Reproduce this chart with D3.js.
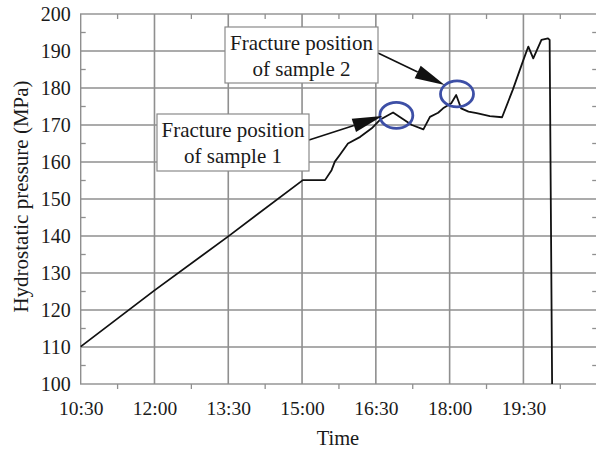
<!DOCTYPE html>
<html>
<head>
<meta charset="utf-8">
<script src="https://cdn.jsdelivr.net/npm/d3@7"></script>
<style>
  html, body { margin: 0; padding: 0; background: #fff; }
  svg { display: block; }
  text { font-family: "Liberation Serif", "DejaVu Serif", serif; fill: #1a1a1a; }
</style>
</head>
<body>
<svg id="chart" width="596" height="449"></svg>
<script>
// Hydrostatic pressure record over the test day
const times = ["10:30","12:00","13:30","15:01","15:28","15:36","15:40","15:46","15:56","16:11",
               "16:25","16:35","16:51","17:14","17:28","17:36","17:46","17:52","18:02","18:08",
               "18:14","18:23","18:33","18:49","19:04","19:17","19:30","19:36","19:42","19:52",
               "20:00","20:02","20:05"];
const pressures = [110.1,125.3,139.9,155.1,155.1,157.8,160.1,161.9,165.0,166.8,
                   169.1,171.4,173.4,170.0,168.8,172.2,173.3,174.5,175.9,178.1,
                   174.5,173.6,173.2,172.4,172.1,179.5,187.6,191.2,188.0,193.0,
                   193.4,193.0,100.0];

const xTickLabels = ["10:30","12:00","13:30","15:00","16:30","18:00","19:30"];
const xMinorTicks = ["11:15","12:45","14:15","15:45","17:15","18:45","20:15"];
const yTicks = [100,110,120,130,140,150,160,170,180,190,200];
const yMinorTicks = [105,115,125,135,145,155,165,175,185,195];

// Fracture annotations: circled point, arrow tip and label
const fractureLabels = [["Fracture position","of sample 1"],["Fracture position","of sample 2"]];
const fractureTimes = ["16:55","18:09"];
const fracturePressures = [172.6,178.4];
const arrowTipTimes = ["16:38","17:54"];
const arrowTipPressures = [172.4,180.8];

const parse = d3.timeParse("%H:%M");
const svg = d3.select("#chart");

const plotL = 80.7, plotR = 597.2, plotT = 14, plotB = 384;
const x = d3.scaleTime().domain([parse("10:30"), parse("21:00")]).range([plotL, plotR]);
const y = d3.scaleLinear().domain([100, 200]).range([plotB, plotT]);

const gridColor = "#8f8f8f";

// grid lines
const grid = svg.append("g");
grid.selectAll("line.gx").data(xTickLabels.slice(1).concat(["21:00"])).join("line")
  .attr("x1", d => x(parse(d))).attr("x2", d => x(parse(d)))
  .attr("y1", plotT).attr("y2", plotB)
  .attr("stroke", gridColor).attr("stroke-width", 1.6);
grid.selectAll("line.gy").data(yTicks.slice(1, -1)).join("line")
  .attr("x1", plotL).attr("x2", plotR)
  .attr("y1", d => y(d)).attr("y2", d => y(d))
  .attr("stroke", gridColor).attr("stroke-width", 1.6);

// frame
svg.append("rect").attr("x", plotL).attr("y", plotT)
  .attr("width", plotR - plotL).attr("height", plotB - plotT)
  .attr("fill", "none").attr("stroke", gridColor).attr("stroke-width", 1.4);

// bottom axis: labels and outward minor ticks
const xAxis = d3.axisBottom(x)
  .tickValues(xTickLabels.map(parse))
  .tickFormat(d3.timeFormat("%H:%M"))
  .tickSize(0).tickPadding(17);
const gx = svg.append("g").attr("transform", `translate(0,${plotB})`).call(xAxis);
gx.select(".domain").remove();
gx.selectAll("text").attr("font-size", 19.5).attr("fill", "#1a1a1a")
  .attr("font-family", '"Liberation Serif", serif');
const ticks = svg.append("g").attr("stroke", gridColor).attr("stroke-width", 1.3);
ticks.selectAll("line.bm").data(xMinorTicks).join("line")
  .attr("x1", d => x(parse(d))).attr("x2", d => x(parse(d)))
  .attr("y1", plotB).attr("y2", plotB + 5);
ticks.selectAll("line.tm").data(xMinorTicks).join("line")
  .attr("x1", d => x(parse(d))).attr("x2", d => x(parse(d)))
  .attr("y1", plotT).attr("y2", plotT + 5);

// left axis
const yAxis = d3.axisLeft(y).tickValues(yTicks).tickSize(0).tickPadding(10);
const gy = svg.append("g").attr("transform", `translate(${plotL},0)`).call(yAxis);
gy.select(".domain").remove();
gy.selectAll("text").attr("font-size", 20).attr("fill", "#1a1a1a")
  .attr("font-family", '"Liberation Serif", serif');
ticks.selectAll("line.lm").data(yMinorTicks).join("line")
  .attr("x1", plotL).attr("x2", plotL + 5)
  .attr("y1", d => y(d)).attr("y2", d => y(d));
ticks.selectAll("line.rm").data(yMinorTicks).join("line")
  .attr("x1", plotR - 5).attr("x2", plotR)
  .attr("y1", d => y(d)).attr("y2", d => y(d));

// axis titles
svg.append("text").attr("x", (plotL + plotR) / 2 - 1).attr("y", 444.5)
  .attr("text-anchor", "middle").attr("font-size", 20.5).text("Time");
svg.append("text").attr("transform", `translate(28,${(plotT + plotB) / 2 - 2.5}) rotate(-90)`)
  .attr("text-anchor", "middle").attr("font-size", 21).text("Hydrostatic pressure (MPa)");

// pressure curve
const series = times.map((t, i) => ({ t: parse(t), p: pressures[i] }));
svg.append("path").datum(series)
  .attr("fill", "none").attr("stroke", "#111").attr("stroke-width", 1.8)
  .attr("stroke-linejoin", "round")
  .attr("d", d3.line().x(d => x(d.t)).y(d => y(d.p)));

// fracture markers
svg.selectAll("ellipse.frac").data(fractureTimes).join("ellipse")
  .attr("cx", d => x(parse(d))).attr("cy", (d, i) => y(fracturePressures[i]))
  .attr("rx", 16.5).attr("ry", 13)
  .attr("fill", "none").attr("stroke", "#3d4fa6").attr("stroke-width", 2.8);

// label boxes and arrows
const boxes = [{ x: 157, y: 114, w: 152, h: 57 }, { x: 225, y: 27, w: 153, h: 56 }];
const arrowStarts = [[309, 140], [378, 53]];

fractureLabels.forEach((lines, i) => {
  const b = boxes[i];
  const [x0, y0] = arrowStarts[i];
  const x1 = x(parse(arrowTipTimes[i])), y1 = y(arrowTipPressures[i]);
  const ang = Math.atan2(y1 - y0, x1 - x0);
  const headLen = 30, headW = 7;
  const bx = x1 - headLen * Math.cos(ang), by = y1 - headLen * Math.sin(ang);
  svg.append("line").attr("x1", x0).attr("y1", y0).attr("x2", bx).attr("y2", by)
    .attr("stroke", "#111").attr("stroke-width", 1.6);
  svg.append("path")
    .attr("d", `M${x1},${y1}L${bx + headW * Math.sin(ang)},${by - headW * Math.cos(ang)}` +
               `L${bx - headW * Math.sin(ang)},${by + headW * Math.cos(ang)}Z`)
    .attr("fill", "#111");

  svg.append("rect").attr("x", b.x).attr("y", b.y).attr("width", b.w).attr("height", b.h)
    .attr("fill", "#fff").attr("stroke", "#8a8a8a").attr("stroke-width", 1.2);
  svg.append("text").attr("x", b.x + b.w / 2).attr("y", b.y + 22.8)
    .attr("text-anchor", "middle").attr("font-size", 21).text(lines[0]);
  svg.append("text").attr("x", b.x + b.w / 2).attr("y", b.y + 49.3)
    .attr("text-anchor", "middle").attr("font-size", 21).text(lines[1]);
});
</script>
</body>
</html>
